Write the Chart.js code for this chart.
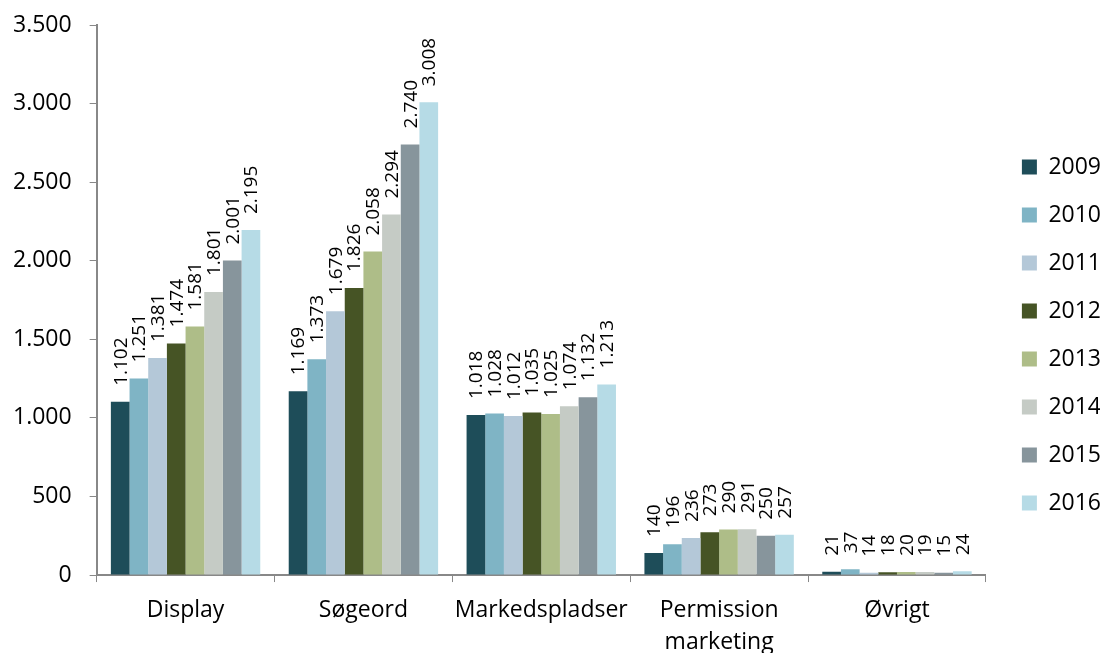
<!DOCTYPE html>
<html>
<head>
<meta charset="utf-8">
<script src="https://cdn.jsdelivr.net/npm/chart.js@4.4.1/dist/chart.umd.min.js"></script>
<style>
    body { margin: 0; background: #ffffff; }
    #wrap { width: 1104px; height: 653px; }
</style>
</head>
<body>
<div id="wrap"><canvas id="chart" width="1104" height="653"></canvas></div>
<script>
// Categories and series
const categories = ['Display', 'Søgeord', 'Markedspladser', ['Permission', 'marketing'], 'Øvrigt'];
const years = ['2009', '2010', '2011', '2012', '2013', '2014', '2015', '2016'];

const values2009 = [1102, 1169, 1018, 140, 21];
const values2010 = [1251, 1373, 1028, 196, 37];
const values2011 = [1381, 1679, 1012, 236, 14];
const values2012 = [1474, 1826, 1035, 273, 18];
const values2013 = [1581, 2058, 1025, 290, 20];
const values2014 = [1801, 2294, 1074, 291, 19];
const values2015 = [2001, 2740, 1132, 250, 15];
const values2016 = [2195, 3008, 1213, 257, 24];

const seriesValues = [values2009, values2010, values2011, values2012, values2013, values2014, values2015, values2016];
const seriesColors = ['#1e4d59', '#7fb4c5', '#b4c8d8', '#465425', '#aebd88', '#c5cbc5', '#87959c', '#b6dbe6'];

const fontFamily = '"Open Sans", sans-serif';

// Danish style thousands separator
function formatNumber(num) {
    return num.toString().replace(/\B(?=(\d{3})+(?!\d))/g, '.');
}

// Draw the value above each bar, rotated; also nudge the legend right
const barValueLabels = {
    id: 'barValueLabels',
    afterLayout(chart) {
        if (chart.legend) chart.legend.left += 11;
    },
    afterDatasetsDraw(chart) {
        const ctx = chart.ctx;
        ctx.save();
        ctx.font = '19px ' + fontFamily;
        ctx.fillStyle = '#000000';
        ctx.textAlign = 'left';
        ctx.textBaseline = 'middle';
        chart.data.datasets.forEach((ds, i) => {
            const meta = chart.getDatasetMeta(i);
            meta.data.forEach((bar, j) => {
                ctx.save();
                ctx.translate(bar.x + 1, bar.y - 16);
                ctx.rotate(-Math.PI / 2);
                ctx.fillText(formatNumber(ds.data[j]), 0, 0);
                ctx.restore();
            });
        });
        ctx.restore();
    }
};

new Chart(document.getElementById('chart'), {
    type: 'bar',
    data: {
        labels: categories,
        datasets: years.map((year, i) => ({
            label: year,
            data: seriesValues[i],
            backgroundColor: seriesColors[i],
            borderWidth: 0,
            barPercentage: 1.0,
            categoryPercentage: 0.84
        }))
    },
    options: {
        responsive: false,
        animation: false,
        layout: {
            padding: { top: 0, right: 4, left: -5, bottom: -17 }
        },
        plugins: {
            legend: {
                position: 'right',
                labels: {
                    boxWidth: 15,
                    boxHeight: 15,
                    padding: 25,
                    color: '#000000',
                    font: { family: fontFamily, size: 23 }
                }
            },
            tooltip: { enabled: false }
        },
        scales: {
            x: {
                grid: {
                    offset: true,
                    drawOnChartArea: false,
                    drawTicks: true,
                    tickLength: 7,
                    color: '#888888'
                },
                border: { color: '#888888', width: 2 },
                ticks: {
                    color: '#000000',
                    padding: 12,
                    maxRotation: 0,
                    autoSkip: false,
                    font: { family: fontFamily, size: 23, lineHeight: 1.39 }
                }
            },
            y: {
                min: 0,
                max: 3500,
                afterFit: scale => { scale.paddingTop = 25; },
                grid: {
                    drawOnChartArea: false,
                    drawTicks: true,
                    tickLength: 7,
                    color: '#888888'
                },
                border: { color: '#888888', width: 2 },
                ticks: {
                    stepSize: 500,
                    color: '#000000',
                    padding: 18,
                    font: { family: fontFamily, size: 23 },
                    callback: value => formatNumber(value)
                }
            }
        }
    },
    plugins: [barValueLabels]
});
</script>
</body>
</html>
